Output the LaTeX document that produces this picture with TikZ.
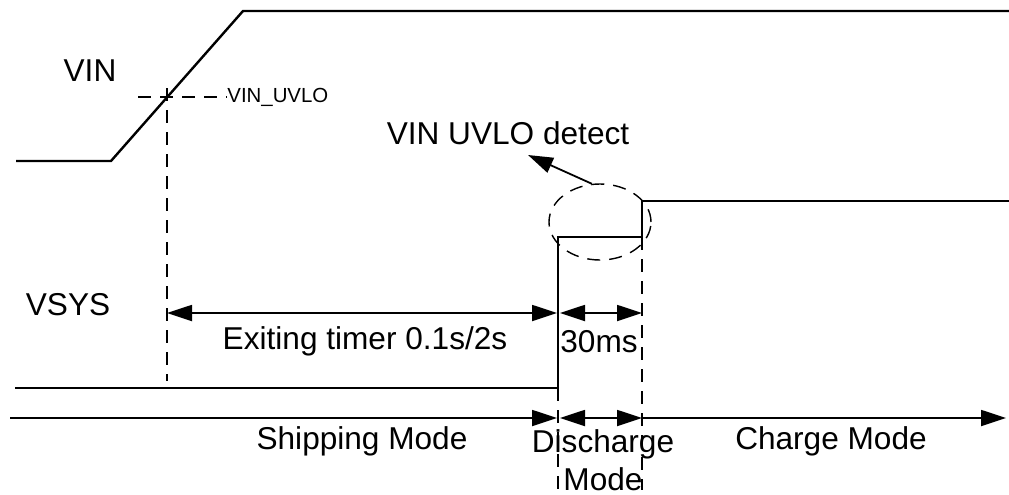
\documentclass[tikz,border=0pt]{standalone}
\usepackage{fontspec}
\setmainfont{Liberation Sans}
\usetikzlibrary{arrows.meta,shapes.geometric}

\begin{document}
\begin{tikzpicture}[x=0.5pt,y=-0.5pt,>={Triangle[length=12.5pt,width=8pt]},
  wave/.style={line width=1.2pt},
  dimline/.style={line width=0.9pt},
  guide/.style={line width=0.7pt,dash pattern=on 6.5pt off 4.5pt},
  lbl/.style={font=\fontsize{15.8}{19}\selectfont,inner sep=0pt}]
  \useasboundingbox (0,0) rectangle (1009,494);

  % VIN trace
  \coordinate (vinA) at (16,161);
  \coordinate (vinB) at (111,161);
  \coordinate (vinC) at (243,11);
  \coordinate (vinD) at (1009,11);
  \draw[wave] (vinA) -- (vinB) -- (vinC) -- (vinD);
  \node[lbl] (vin) at (90,71) {VIN};

  % UVLO threshold
  \node[font=\fontsize{10.2}{12}\selectfont,inner sep=0pt,anchor=west] (uvlo) at (227,97) {VIN\_UVLO};
  \coordinate (thL) at (138,97);
  \coordinate (thX) at (167,88);
  \coordinate (thB) at (167,381);
  \draw[guide] (thL) -- (uvlo.west);
  \draw[guide] (thX) -- (thB);

  % VSYS trace
  \coordinate (vsA) at (15,388);
  \coordinate (vsB) at (558,388);
  \coordinate (vsC) at (558,237);
  \coordinate (vsD) at (642,237);
  \coordinate (vsE) at (642,201);
  \coordinate (vsF) at (1009,201);
  \draw[wave] (vsA) -- (vsB) -- (vsC) -- (vsD) -- (vsE) -- (vsF);
  \node[lbl] (vsys) at (68,305) {VSYS};

  % mode boundaries
  \coordinate (bndA) at (558,490);
  \coordinate (bndB) at (642,490);
  \draw[guide] (vsB) -- (bndA);
  \draw[guide] (vsD) -- (bndB);

  % UVLO detect
  \node[draw,guide,ellipse,minimum width=51pt,minimum height=38pt,inner sep=0pt] (ring) at (600,222) {};
  \node[lbl] (det) at (508,133) {VIN UVLO detect};
  \coordinate (detTip) at (528,155);
  \draw[dimline,->] (ring.102) -- (detTip);

  % timers
  \coordinate (tmA) at (167,313);
  \coordinate (tmB) at (557,313);
  \coordinate (tmC) at (560,313);
  \coordinate (tmD) at (642,313);
  \draw[dimline,<->] (tmA) -- (tmB);
  \draw[dimline,<->] (tmC) -- (tmD);
  \node[lbl] (exit) at (365,341) {Exiting timer 0.1s/2s};
  \node[lbl] (ms) at (599,342) {30ms};

  % mode axis
  \coordinate (axA) at (10,418);
  \coordinate (axB) at (557,418);
  \coordinate (axC) at (560,418);
  \coordinate (axD) at (642,418);
  \coordinate (axE) at (1006,418);
  \draw[dimline,->] (axA) -- (axB);
  \draw[dimline,<->] (axC) -- (axD);
  \draw[dimline,->] (axD) -- (axE);
  \node[lbl] (ship) at (362,441) {Shipping Mode};
  \node[lbl,align=center] (dis) at (603,460) {Discharge\\Mode};
  \node[lbl] (chg) at (831,441) {Charge Mode};
\end{tikzpicture}
\end{document}
